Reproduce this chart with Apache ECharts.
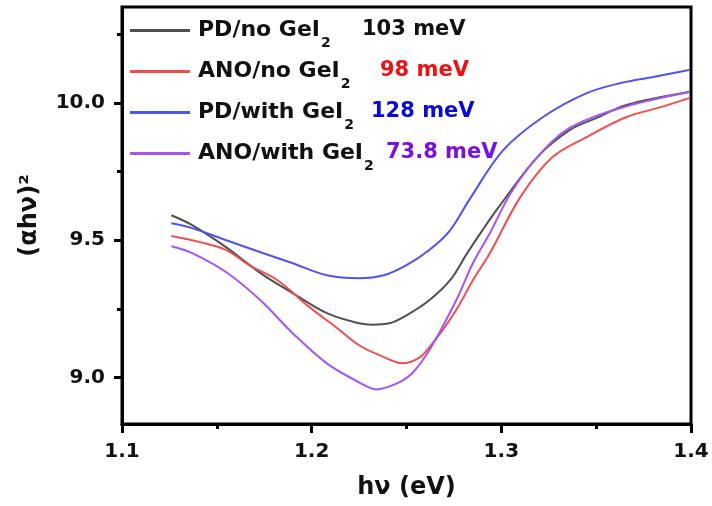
<!DOCTYPE html>
<html>
<head>
<meta charset="utf-8">
<script src="https://cdn.jsdelivr.net/npm/echarts@6/dist/echarts.min.js"></script>
<style>html,body{margin:0;padding:0;background:#fff}#c{width:712px;height:506px}</style>
</head>
<body>
<div id="c"></div>
<script>
// ---- data ----
const seriesNames = ['PD/no GeI', 'ANO/no GeI', 'PD/with GeI', 'ANO/with GeI'];
const gapLabels = ['103 meV', '98 meV', '128 meV', '73.8 meV'];
const xTickValues = [1.1, 1.2, 1.3, 1.4];
const xMinorTicks = [1.15, 1.25, 1.35];
const yTickValues = [9.0, 9.5, 10.0];
const yMinorTicks = [9.25, 9.75, 10.25];

const pdNoX = [1.126,1.137,1.155,1.173,1.190,1.208,1.225,1.232,1.241,1.250,1.262,1.273,1.282,1.290,1.298,1.319,1.336,1.350,1.366,1.399];
const pdNoY = [9.591,9.555,9.474,9.380,9.307,9.234,9.197,9.192,9.197,9.226,9.281,9.354,9.453,9.536,9.615,9.803,9.901,9.945,9.993,10.040];

const anoNoX = [1.126,1.141,1.155,1.167,1.182,1.199,1.213,1.225,1.236,1.248,1.257,1.262,1.269,1.277,1.285,1.294,1.310,1.327,1.345,1.366,1.384,1.399];
const anoNoY = [9.515,9.493,9.464,9.409,9.354,9.255,9.182,9.117,9.080,9.051,9.073,9.109,9.172,9.255,9.354,9.453,9.657,9.803,9.876,9.949,9.985,10.018];

const pdWithX = [1.126,1.137,1.155,1.173,1.190,1.208,1.225,1.238,1.250,1.262,1.273,1.283,1.301,1.322,1.345,1.363,1.380,1.399];
const pdWithY = [9.562,9.544,9.500,9.456,9.416,9.372,9.361,9.372,9.409,9.464,9.536,9.646,9.828,9.949,10.036,10.073,10.095,10.120];

const anoWithX = [1.126,1.137,1.155,1.173,1.190,1.208,1.225,1.234,1.245,1.253,1.261,1.268,1.277,1.285,1.294,1.305,1.319,1.336,1.363,1.399];
const anoWithY = [9.478,9.453,9.383,9.281,9.161,9.051,8.982,8.956,8.978,9.015,9.088,9.172,9.292,9.416,9.526,9.672,9.803,9.909,9.982,10.040];

// ---- styling ----
const lineColors = ['#505050', '#ef4f4f', '#5252ee', '#a456f2'];
const gapColors = ['#111111', '#ee1111', '#0a0ad8', '#7a10e0'];
const FONT = 'DejaVu Sans';

const zip = (xs, ys) => xs.map((x, i) => [x, ys[i]]);
const allData = [zip(pdNoX, pdNoY), zip(anoNoX, anoNoY), zip(pdWithX, pdWithY), zip(anoWithX, anoWithY)];

const chart = echarts.init(document.getElementById('c'), null, {renderer: 'canvas'});

const grid = {left: 122, right: 21, top: 7, bottom: 82, show: true, borderColor: '#000', borderWidth: 3, backgroundColor: 'transparent'};
const yMin = 8.83, yMax = 10.35;

const gapTextX = [362, 380, 371, 386];
const rowY = [30, 71, 112, 153];

chart.setOption({
  animation: false,
  backgroundColor: '#fff',
  grid: grid,
  legend: {
    orient: 'vertical',
    left: 130,
    top: 11,
    padding: 0,
    itemGap: 2,
    itemWidth: 60,
    itemHeight: 3,
    icon: 'rect',
    data: seriesNames,
    formatter: n => '{a|' + n + '}{s|2}',
    textStyle: {
      fontFamily: FONT, fontWeight: 'bold', fontSize: 22, color: '#111',
      rich: {
        a: {fontFamily: FONT, fontWeight: 'bold', fontSize: 22, lineHeight: 24, verticalAlign: 'middle', padding: [0, 0, 0, 3], color: '#111'},
        s: {fontFamily: FONT, fontWeight: 'bold', fontSize: 14, lineHeight: 14, verticalAlign: 'middle', padding: [25, 0, 0, 1], color: '#111'}
      }
    }
  },
  xAxis: [{
    type: 'value', min: 1.1, max: 1.4, gridIndex: 0,
    name: 'h\u03bd (eV)', nameLocation: 'middle', nameGap: 52,
    nameTextStyle: {fontFamily: FONT, fontWeight: 'bold', fontSize: 24, color: '#111'},
    axisLine: {show: true, lineStyle: {color: '#000', width: 3}},
    axisTick: {show: true, inside: false, length: 9, lineStyle: {color: '#000', width: 3}, customValues: xTickValues},
    axisLabel: {show: true, margin: 18, customValues: xTickValues, formatter: v => v.toFixed(1),
      fontFamily: FONT, fontWeight: 'bold', fontSize: 20, color: '#111'},
    splitLine: {show: false}
  }, {
    type: 'value', min: 1.1, max: 1.4, gridIndex: 0, position: 'bottom',
    axisLine: {show: false},
    axisTick: {show: true, inside: false, length: 5, lineStyle: {color: '#000', width: 3}, customValues: xMinorTicks},
    axisLabel: {show: false},
    splitLine: {show: false}
  }],
  yAxis: [{
    type: 'value', min: yMin, max: yMax, gridIndex: 0,
    name: '(\u03b1h\u03bd)\u00b2', nameLocation: 'middle', nameGap: 80, nameRotate: 90,
    nameTextStyle: {fontFamily: FONT, fontWeight: 'bold', fontSize: 24, color: '#111'},
    axisLine: {show: true, lineStyle: {color: '#000', width: 3}},
    axisTick: {show: true, inside: false, length: 8, lineStyle: {color: '#000', width: 3}, customValues: yTickValues},
    axisLabel: {show: true, margin: 17, customValues: yTickValues, formatter: v => v.toFixed(1),
      fontFamily: FONT, fontWeight: 'bold', fontSize: 20, color: '#111'},
    splitLine: {show: false}
  }, {
    type: 'value', min: yMin, max: yMax, gridIndex: 0, position: 'left',
    axisLine: {show: false},
    axisTick: {show: true, inside: false, length: 5, lineStyle: {color: '#000', width: 3}, customValues: yMinorTicks},
    axisLabel: {show: false},
    splitLine: {show: false}
  }],
  series: seriesNames.map((n, i) => ({
    name: n, type: 'line', xAxisIndex: 0, yAxisIndex: 0,
    data: allData[i], showSymbol: false, symbol: 'none', smooth: 0.35,
    color: lineColors[i],
    lineStyle: {color: lineColors[i], width: 2}
  })),
  graphic: gapLabels.map((t, i) => ({
    type: 'text', left: gapTextX[i], top: rowY[i] - 11,
    style: {text: t, fontFamily: FONT, fontWeight: 'bold', fontSize: 21, fill: gapColors[i]}
  }))
});
</script>
</body>
</html>
